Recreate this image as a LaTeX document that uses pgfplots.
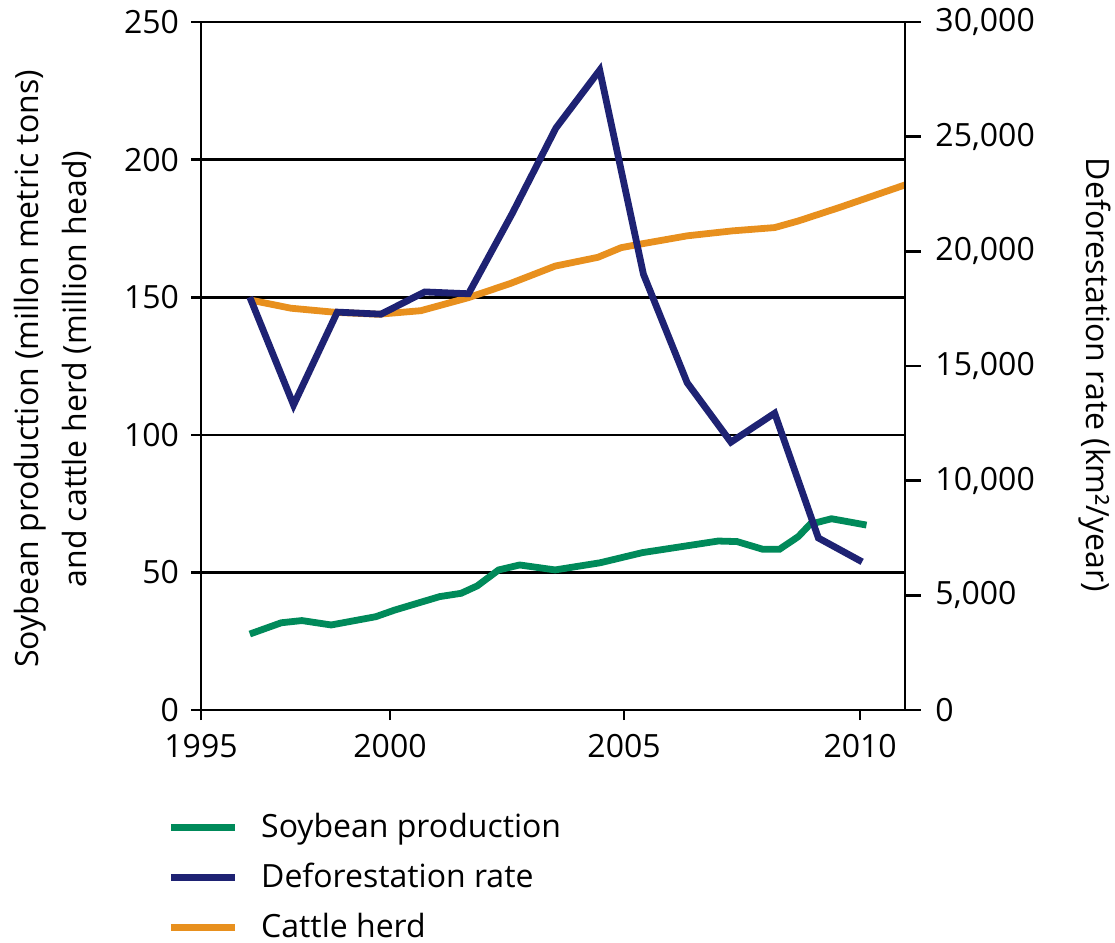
\documentclass[border=0pt]{standalone}
\usepackage{fontspec}
\setmainfont{Open Sans}
\usepackage{pgfplots}
\pgfplotsset{compat=1.18}
\definecolor{soy}{RGB}{0,138,90}
\definecolor{defo}{RGB}{30,34,115}
\definecolor{cattle}{RGB}{232,144,30}

\pgfplotstableread{
x y
1996.00 27.6
1996.72 31.7
1997.19 32.5
1997.86 30.9
1998.88 33.9
1999.31 36.3
2000.34 41.2
2000.83 42.4
2001.20 45.1
2001.69 50.9
2002.17 52.7
2002.98 50.9
2004.01 53.5
2004.98 57.2
2006.71 61.4
2007.14 61.2
2007.73 58.4
2008.11 58.4
2008.54 63.0
2008.81 67.5
2009.30 69.5
2010.10 67.2
}\soytab

\pgfplotstableread{
x y
1996.00 149.0
1996.94 146.0
1997.96 144.5
1998.94 143.8
1999.91 145.1
2000.99 149.8
2001.96 155.0
2002.98 161.3
2003.96 164.5
2004.49 168.0
2004.93 169.3
2006.00 172.3
2007.03 174.1
2008.00 175.3
2008.54 177.7
2009.50 182.7
2010.98 190.8
}\cattletab

\pgfplotstableread{
x y
1996 18000
1997 13300
1998 17350
1999 17260
2000 18230
2001 18150
2002 21650
2003 25380
2004 27900
2005 19000
2006 14270
2007 11680
2008 12940
2009 7500
2010 6460
}\defotab

\begin{document}
\begin{tikzpicture}
\useasboundingbox (-100.5pt,-116.5pt) rectangle (457pt,355pt);
\begin{axis}[
  at={(0pt,0pt)}, anchor=south west,
  scale only axis, width=352pt, height=344pt,
  xmin=1994.884, xmax=2010.98, ymin=0, ymax=250,
  font=\fontsize{16}{24}\selectfont,
  axis line style={line width=1.3pt, black},
  xtick={1994.884,1999.206,2004.557,2009.954},
  xticklabels={1995,2000,2005,2010},
  ytick={0,50,100,150,200,250},
  yticklabels={0,50,100,150,200,250},
  tick align=outside, xtick pos=bottom, ytick pos=left,
  major tick length=5pt,
  tick style={line width=1.3pt, black},
  ymajorgrids, grid style={line width=1.3pt, black},
  xticklabel style={yshift=-3.7pt},
  yticklabel style={xshift=-2.5pt},
  clip=false,
  ylabel={Soybean production (millon metric tons)\\and cattle herd (million head)},
  every axis y label/.style={at={(axis description cs:-0.2102,0.4956)}, rotate=90, anchor=center, align=center},
  legend style={at={(axis description cs:-0.0483,-0.1497)}, anchor=north west, draw=none, fill=none, inner sep=0pt,
    row sep=11pt, nodes={inner sep=0pt, text height=12pt, text depth=2pt},
    /tikz/every odd column/.append style={column sep=11.5pt}},
  legend cell align=left,
  legend image code/.code={\draw[#1] (0pt,0pt) -- (32pt,0pt);},
]
\addplot[soy, line width=3.4pt] table[x=x,y=y] {\soytab};
\addlegendentry{Soybean production}
\addlegendimage{defo, line width=3.4pt}
\addlegendentry{Deforestation rate}
\addplot[cattle, line width=3.4pt] table[x=x,y=y] {\cattletab};
\addlegendentry{Cattle herd}
\end{axis}
\begin{axis}[
  at={(0pt,0pt)}, anchor=south west,
  scale only axis, width=352pt, height=344pt,
  xmin=1994.884, xmax=2010.98, ymin=0, ymax=30000,
  font=\fontsize{16}{24}\selectfont,
  axis x line=none, axis y line*=right,
  axis line style={line width=1.3pt, black},
  ytick={0,5000,10000,15000,20000,25000,30000},
  yticklabels={0,{5,000},{10,000},{15,000},{20,000},{25,000},{30,000}},
  scaled y ticks=false,
  tick align=outside, major tick length=8pt,
  tick style={line width=1.3pt, black},
  yticklabel style={xshift=3.7pt},
  clip=false,
  ylabel={Deforestation rate (km²/year)},
  every axis y label/.style={at={(axis description cs:1.270,0.487)}, rotate=-90, anchor=center},
]
\addplot[defo, line width=3.4pt] table[x=x,y=y] {\defotab};
\end{axis}
\end{tikzpicture}
\end{document}
